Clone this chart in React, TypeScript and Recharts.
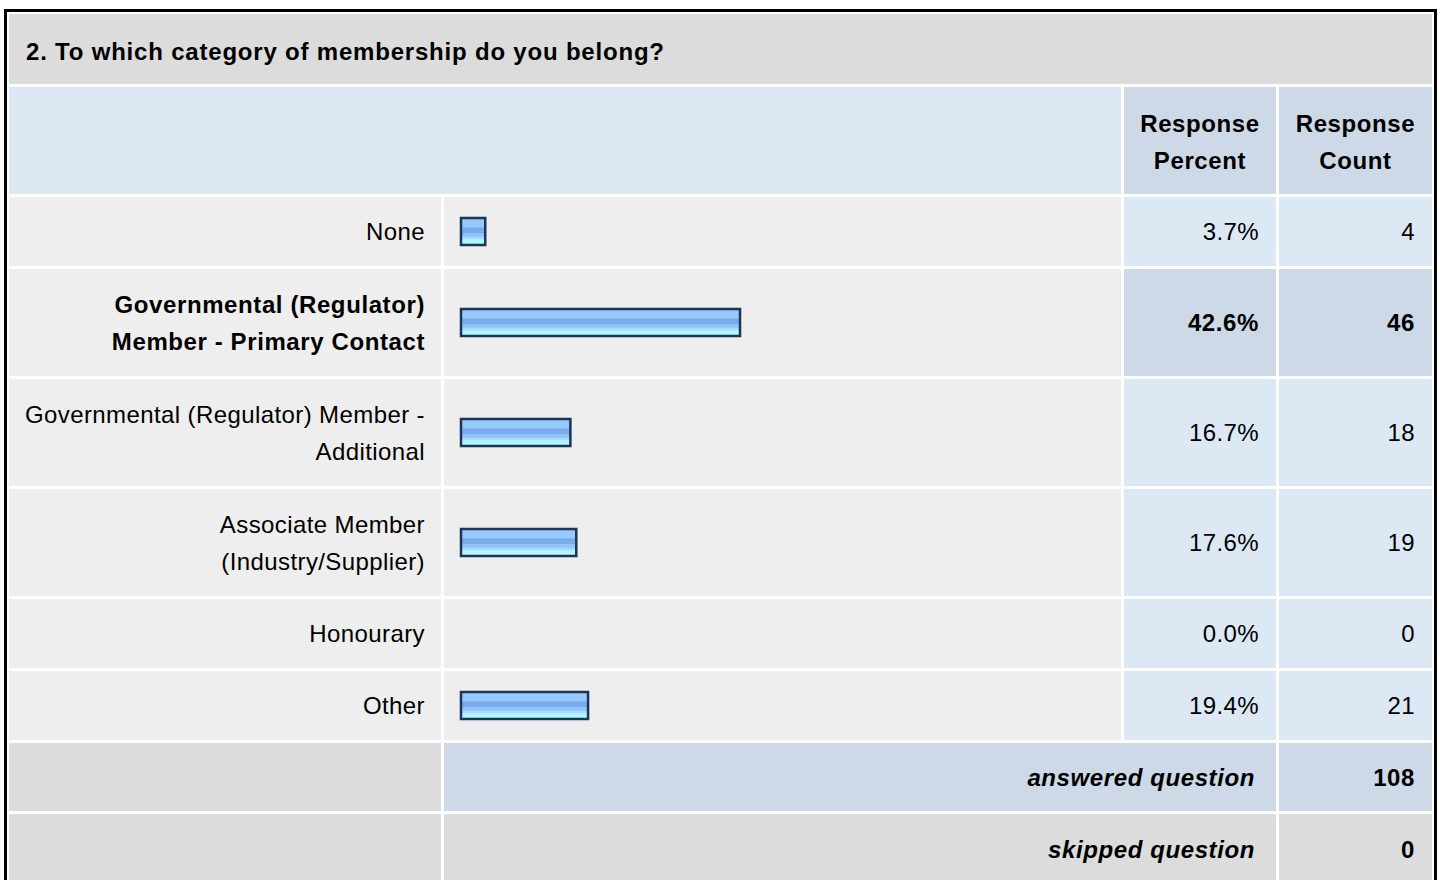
import React from 'react';
import { BarChart, Bar, XAxis, YAxis } from 'recharts';

const QUESTION = '2. To which category of membership do you belong?';
const HEAD_PERCENT = ['Response', 'Percent'];
const HEAD_COUNT = ['Response', 'Count'];

// each category split into the lines it shows on
const categories = [
  ['None'],
  ['Governmental (Regulator)', 'Member - Primary Contact'],
  ['Governmental (Regulator) Member -', 'Additional'],
  ['Associate Member', '(Industry/Supplier)'],
  ['Honourary'],
  ['Other'],
];
const percents = [3.7, 42.6, 16.7, 17.6, 0.0, 19.4];
const counts = [4, 46, 18, 19, 0, 21];
const answeredCount = 108;
const skippedCount = 0;

const FONT = '"Liberation Sans", Arial, Helvetica, sans-serif';
const GRAY = '#dcdcdc';
const LIGHT = '#eeeeee';
const BLUE = '#dde8f5';
const BLUE_DARK = '#cdd9e6';

const COLS = [432, 677, 152, 153];
const GAP = 3;

const topIndex = counts.indexOf(Math.max(...counts));

const cell = (bg: string, extra: React.CSSProperties = {}): React.CSSProperties => ({
  background: bg,
  display: 'flex',
  alignItems: 'center',
  boxSizing: 'border-box',
  ...extra,
});

const RowBar: React.FC<{ name: string; value: number; height: number; idx: number }> = ({ name, value, height, idx }) => (
  <BarChart
    width={COLS[1]}
    height={height}
    data={[{ name, value }]}
    layout="vertical"
    margin={{ top: 0, right: 5, bottom: 0, left: 17 }}
  >
    <defs>
      <linearGradient id={`barGrad${idx}`} x1="0" y1="0" x2="0" y2="1">
        <stop offset="0" stopColor="#96cafe" />
        <stop offset="0.34" stopColor="#96cafe" />
        <stop offset="0.36" stopColor="#7aacec" />
        <stop offset="0.55" stopColor="#7aacec" />
        <stop offset="0.57" stopColor="#8fc3f9" />
        <stop offset="0.68" stopColor="#8fc3f9" />
        <stop offset="0.7" stopColor="#a6dafe" />
        <stop offset="0.78" stopColor="#a6dafe" />
        <stop offset="0.8" stopColor="#b2f6ff" />
        <stop offset="1" stopColor="#b2f6ff" />
      </linearGradient>
    </defs>
    <XAxis type="number" domain={[0, 100]} hide />
    <YAxis type="category" dataKey="name" hide />
    <Bar
      dataKey="value"
      fill={`url(#barGrad${idx})`}
      stroke="#1c3557"
      strokeWidth={2.5}
      barSize={27}
      isAnimationActive={false}
    />
  </BarChart>
);

export default function App() {
  const rowHeights = categories.map((c) => (c.length > 1 ? 107 : 69));
  const gridRows = [70, 107, ...rowHeights, 68, 70].map((h) => `${h}px`).join(' ');

  const text: React.CSSProperties = { fontSize: 24, letterSpacing: 0.4, lineHeight: '37px', color: '#000' };
  const bold: React.CSSProperties = { ...text, fontWeight: 'bold', letterSpacing: 0.6 };

  return (
    <div
      style={{
        position: 'absolute',
        left: 4,
        top: 9,
        width: 1433,
        height: 880,
        boxSizing: 'border-box',
        border: '3px solid #000',
        borderBottom: 'none',
        padding: 2,
        background: '#fff',
        fontFamily: FONT,
        overflow: 'hidden',
      }}
    >
      <div
        style={{
          display: 'grid',
          gridTemplateColumns: COLS.map((w) => `${w}px`).join(' '),
          gridTemplateRows: gridRows,
          gap: GAP,
        }}
      >
        {/* question title */}
        <div style={cell(GRAY, { gridColumn: '1 / 5', paddingLeft: 17, paddingTop: 4 })}>
          <span style={{ ...bold, fontSize: 24, letterSpacing: 0.8 }}>{QUESTION}</span>
        </div>

        {/* header */}
        <div style={cell(BLUE, { gridColumn: '1 / 3' })} />
        <div style={cell(BLUE_DARK, { justifyContent: 'center', textAlign: 'center', paddingTop: 2 })}>
          <span style={bold}>
            {HEAD_PERCENT[0]}
            <br />
            {HEAD_PERCENT[1]}
          </span>
        </div>
        <div style={cell(BLUE_DARK, { justifyContent: 'center', textAlign: 'center', paddingTop: 2 })}>
          <span style={bold}>
            {HEAD_COUNT[0]}
            <br />
            {HEAD_COUNT[1]}
          </span>
        </div>

        {/* answer rows */}
        {categories.map((lines, i) => {
          const hi = i === topIndex;
          const st = hi ? bold : text;
          return (
            <React.Fragment key={i}>
              <div style={cell(LIGHT, { justifyContent: 'flex-end', textAlign: 'right', paddingRight: 16 })}>
                <span style={st}>
                  {lines.map((l, j) => (
                    <React.Fragment key={j}>
                      {j > 0 && <br />}
                      {l}
                    </React.Fragment>
                  ))}
                </span>
              </div>
              <div style={cell(LIGHT)}>
                <RowBar name={lines.join(' ')} value={percents[i]} height={rowHeights[i]} idx={i} />
              </div>
              <div style={cell(hi ? BLUE_DARK : BLUE, { justifyContent: 'flex-end', paddingRight: 17 })}>
                <span style={st}>{percents[i].toFixed(1)}%</span>
              </div>
              <div style={cell(hi ? BLUE_DARK : BLUE, { justifyContent: 'flex-end', paddingRight: 17 })}>
                <span style={st}>{counts[i]}</span>
              </div>
            </React.Fragment>
          );
        })}

        {/* totals */}
        <div style={cell(GRAY)} />
        <div style={cell(BLUE_DARK, { gridColumn: '2 / 4', justifyContent: 'flex-end', paddingRight: 21 })}>
          <span style={{ ...bold, fontStyle: 'italic' }}>answered question</span>
        </div>
        <div style={cell(BLUE_DARK, { justifyContent: 'flex-end', paddingRight: 17 })}>
          <span style={bold}>{answeredCount}</span>
        </div>

        <div style={cell(GRAY)} />
        <div style={cell(GRAY, { gridColumn: '2 / 4', justifyContent: 'flex-end', paddingRight: 21 })}>
          <span style={{ ...bold, fontStyle: 'italic' }}>skipped question</span>
        </div>
        <div style={cell(GRAY, { justifyContent: 'flex-end', paddingRight: 17 })}>
          <span style={bold}>{skippedCount}</span>
        </div>
      </div>
    </div>
  );
}
